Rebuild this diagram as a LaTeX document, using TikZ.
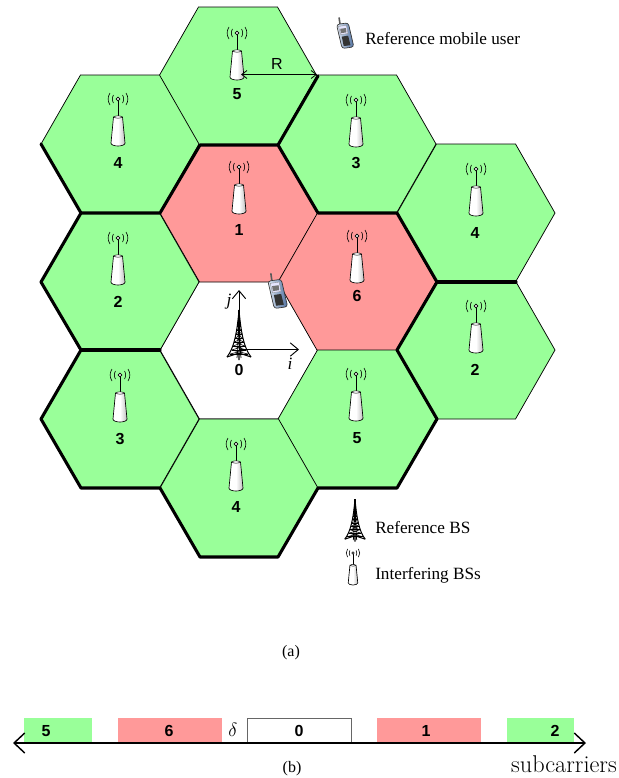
\documentclass[tikz,border=0pt]{standalone}
\usepackage{fontspec}
\setmainfont{Liberation Serif}
\setsansfont{Liberation Sans}
\newfontfamily\lmfont{Latin Modern Roman}
\usetikzlibrary{arrows.meta,calc}
\definecolor{cellgreen}{HTML}{99FF99}
\definecolor{cellred}{HTML}{FF9999}
\definecolor{phonelight}{HTML}{DCE6F2}
\definecolor{phonedark}{HTML}{4F6F9F}
\newcommand{\hexcell}[4]{% name, cx, cy, fill
  \draw[thinedge,fill=#4] (#2-79,#3) -- (#2-39.5,#3-69) -- (#2+39.5,#3-69) -- (#2+79,#3) -- (#2+39.5,#3+69) -- (#2-39.5,#3+69) -- cycle;
  \coordinate (#1) at (#2,#3);
}
\tikzset{
  x=0.75pt,y=-0.75pt,
  thinedge/.style={draw=black,line width=0.55pt},
  thickedge/.style={draw=black,line width=2.3pt,line cap=round,line join=round},
  numlabel/.style={font=\sffamily\bfseries\fontsize{12}{14}\selectfont,inner sep=0pt},
  serlabel/.style={font=\fontsize{12.9}{15}\selectfont,inner sep=0pt,anchor=west},
  bandbox/.style={minimum height=18.75pt,inner sep=0pt,draw=none,anchor=north west},
  bsicon/.pic={
    \draw[line width=0.6pt] (0,-30) -- (0,-45);
    \draw[line width=0.45pt,fill=white] (0,-47) circle (1.4pt);
    \draw[line width=0.45pt] (-8,-53) .. controls (-10.5,-49) and (-10.5,-45) .. (-8,-41) (8,-53) .. controls (10.5,-49) and (10.5,-45) .. (8,-41);
    \draw[line width=0.45pt] (-4.5,-51) .. controls (-6,-49) and (-6,-45) .. (-4.5,-43) (4.5,-51) .. controls (6,-49) and (6,-45) .. (4.5,-43);
    \path[left color=white,right color=black!25,middle color=white,draw=black,line width=0.5pt]
      (-4.5,-29) -- (4.5,-29) -- (7,-3) .. controls (7,1) and (-7,1) .. (-7,-3) -- cycle;
    \draw[line width=0.35pt,fill=white] (0,-29) ellipse (2.8pt and 0.9pt);
  },
  toweicon/.pic={
    \foreach \s in {-1,1}{
      \draw[line width=0.75pt] (0,-48) .. controls (\s*2,-25) and (\s*5,-10) .. (\s*12,-1);
      \draw[line width=0.55pt] (0,-48) .. controls (\s*0.5,-25) and (\s*1,-10) .. (\s*2,0);
    }
    \draw[line width=1pt] (0,-48) -- (0,-24);
    \foreach \y/\w in {-36/1.2,-32/1.6,-28/2.2,-24/2.9,-20/3.7,-16/4.7,-12/5.8,-8/7.2,-4/9}{
      \draw[line width=0.5pt] (-\w,\y) -- (\w,\y);
      \draw[line width=0.45pt] (-\w,\y) -- (\w*0.8,\y-4) (\w,\y) -- (-\w*0.8,\y-4);
    }
    \draw[line width=0.8pt] (-12,-1) -- (0,-5) -- (12,-1) (0,-5) -- (0,2);
  },
  phoneicon/.pic={
    \begin{scope}[rotate=8]
      \draw[line width=1.2pt,line cap=round,draw=black!65] (-3.5,-11) -- (-3.5,-19);
      \path[draw=black!80,line width=0.5pt,left color=phonelight,right color=phonedark,rounded corners=2pt]
        (-7.5,-12) -- (6,-12) -- (8.5,16) -- (-5,16) -- cycle;
      \fill[white!90!blue,draw=black!45,line width=0.25pt] (-5.5,-9.5) -- (3.5,-9.5) -- (4,0) -- (-4.5,0) -- cycle;
      \fill[black!55] (-4,-6.5) rectangle (2.5,-1.5);
      \fill[black!80] (-3.5,2.5) -- (3.8,2.5) -- (5,13.5) -- (-2.8,13.5) -- cycle;
    \end{scope}
  },
}
\begin{document}
\begin{tikzpicture}
\useasboundingbox (0,0) rectangle (618,778);
% cells
\hexcell{cA}{239}{350}{white}
\hexcell{cB}{239}{213}{cellred}
\hexcell{cC}{357}{282}{cellred}
\hexcell{cD}{238}{76}{cellgreen}
\hexcell{cE}{120}{144}{cellgreen}
\hexcell{cF}{357}{144}{cellgreen}
\hexcell{cG}{476}{213}{cellgreen}
\hexcell{cH}{120}{282}{cellgreen}
\hexcell{cI}{476}{350}{cellgreen}
\hexcell{cJ}{120}{419}{cellgreen}
\hexcell{cK}{357}{419}{cellgreen}
\hexcell{cL}{239}{488}{cellgreen}
% thick boundaries
\draw[thickedge] (41,144) -- (81,213) -- (160,213) -- (200,145) -- (278,145) -- (318,213) -- (397,213) -- (437,282) -- (397,350) -- (437,419) -- (397,488) -- (318,488) -- (278,557) -- (200,557) -- (160,488) -- (81,488) -- (41,419) -- (81,350) -- (41,282) -- (81,213);
\draw[thickedge] (81,350) -- (160,350);
\draw[thickedge] (278,145) -- (318,76);
\draw[thickedge] (437,282) -- (516,282);
% base stations
\foreach \n/\xx/\yy in {cB/239/214,cC/357/283,cD/237/80,cE/118/146,cF/356/147,cG/476/216,cH/118/285,cI/476/353,cJ/120/422,cK/356/421,cL/236/491}
  \pic at (\xx,\yy) {bsicon};
% numbers
\node[numlabel] (n1) at (239,230) {1};
\node[numlabel] (n6) at (357,296) {6};
\node[numlabel] (n5a) at (237,94) {5};
\node[numlabel] (n4a) at (118,163) {4};
\node[numlabel] (n3a) at (356,163) {3};
\node[numlabel] (n4b) at (475,233) {4};
\node[numlabel] (n2a) at (118,302) {2};
\node[numlabel] (n2b) at (475,370) {2};
\node[numlabel] (n3b) at (120,439) {3};
\node[numlabel] (n5b) at (357,438) {5};
\node[numlabel] (n4c) at (236,507) {4};
\node[numlabel] (n0) at (239,370) {0};
% R
\coordinate (Rl) at (241,74.5);
\coordinate (Rr) at (317,74.5);
\draw[line width=0.6pt,{Straight Barb[length=4pt,width=6pt]}-{Straight Barb[length=4pt,width=6pt]}] (Rl) -- (Rr);
\node[font=\sffamily\fontsize{12}{14}\selectfont,inner sep=0pt] (Rt) at (277,64) {R};
% central tower and axes
\coordinate (ob) at (239,349.5);
\coordinate (oj) at (239,290);
\coordinate (oi) at (299,349.5);
\draw[line width=0.7pt,-{Straight Barb[length=6pt,width=10pt]}] (ob) -- (oj);
\draw[line width=0.7pt,-{Straight Barb[length=6pt,width=10pt]}] (ob) -- (oi);
\pic at (239,358) {toweicon};
\node[font=\itshape\fontsize{13}{15}\selectfont,inner sep=0pt] (tj) at (229,302) {j};
\node[font=\itshape\fontsize{13}{15}\selectfont,inner sep=0pt] (ti) at (290,364) {i};
\pic at (277,292) {phoneicon};
% legend
\pic[scale=0.88] at (344.5,34) {phoneicon};
\node[serlabel] (lgA) at (365,38.5) {Reference mobile user};
\pic[scale=0.85] at (355,540) {toweicon};
\node[serlabel] (lgB) at (375,527.5) {Reference BS};
\pic[scale=0.68] at (353,585) {bsicon};
\node[serlabel] (lgC) at (375,575.5) {Interfering BSs};
\node[font=\fontsize{12}{14}\selectfont,inner sep=0pt] (capa) at (291,653) {(a)};
% spectrum
\node[bandbox,fill=cellgreen,minimum width=51pt] (b5) at (24,718) {};
\node[bandbox,fill=cellred,minimum width=78pt] (b6) at (118,718) {};
\node[bandbox,fill=white,draw=black!60,line width=0.6pt,minimum width=78pt] (b0) at (247,718) {};
\node[bandbox,fill=cellred,minimum width=78pt] (b1) at (377,718) {};
\node[bandbox,fill=cellgreen,minimum width=50pt] (b2) at (507,718) {};
\node[numlabel] (t5) at (46,731) {5};
\node[numlabel] (t6) at (169,731) {6};
\node[numlabel] (t0) at (299,731) {0};
\node[numlabel] (t1) at (426,731) {1};
\node[numlabel] (t2) at (555,731) {2};
\node[inner sep=0pt,font=\fontsize{14}{16}\selectfont] (td) at (233,730) {$\delta$};
\coordinate (axl) at (13,743);
\coordinate (axr) at (586,743);
\draw[line width=1.1pt,{Straight Barb[length=8pt,width=15pt,line width=1.1pt]}-{Straight Barb[length=8pt,width=15pt,line width=1.1pt]}] (axl) -- (axr);
\node[font=\lmfont\fontsize{18.2}{20}\selectfont,inner sep=0pt,anchor=base east] (sc) at (617,772) {subcarriers};
\node[font=\fontsize{12}{14}\selectfont,inner sep=0pt] (capb) at (292,769) {(b)};
\end{tikzpicture}
\end{document}
